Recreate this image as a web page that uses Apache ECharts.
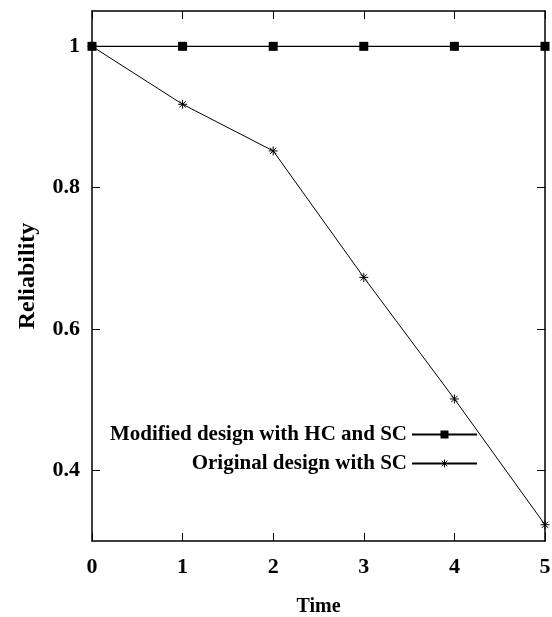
<!DOCTYPE html>
<html>
<head>
<meta charset="utf-8">
<script src="https://cdn.jsdelivr.net/npm/echarts@6/dist/echarts.min.js"></script>
<style>
html,body{margin:0;padding:0;background:#fff;}
#chart{width:552px;height:617px;}
</style>
</head>
<body>
<div id="chart"></div>
<script>
const timePoints = [0, 1, 2, 3, 4, 5];
const modifiedHCSC = [1, 1, 1, 1, 1, 1];
const originalSC = [1, 0.918, 0.852, 0.673, 0.501, 0.323];
const yTickValues = [0.4, 0.6, 0.8, 1];
const xTickValues = [0, 1, 2, 3, 4, 5];
const seriesNames = ['Modified design with HC and SC', 'Original design with SC'];

const FONT = "'Liberation Serif', 'Times New Roman', serif";
const asterisk = 'path://M5,0L5,10M0,5L10,5M1.5,1.5L8.5,8.5M1.5,8.5L8.5,1.5';

const chart = echarts.init(document.getElementById('chart'));
const tickStyle = {show: true, inside: true, length: 8, lineStyle: {color: '#000', width: 1}};
chart.setOption({
  animation: false,
  backgroundColor: '#fff',
  grid: {left: 92, right: 7, top: 11, bottom: 76, containLabel: false, outerBoundsMode: 'none'},
  legend: {
    orient: 'vertical',
    align: 'right',
    right: 74,
    top: 424,
    padding: 0,
    itemWidth: 65,
    itemHeight: 10,
    itemGap: 8,
    data: [
      {name: seriesNames[0]},
      {name: seriesNames[1], itemStyle: {color: 'none', borderColor: '#000', borderWidth: 1}}
    ],
    textStyle: {fontFamily: FONT, fontWeight: 'bold', fontSize: 21, color: '#000'}
  },
  xAxis: [{
    type: 'value', min: 0, max: 5, interval: 1,
    name: 'Time', nameLocation: 'middle', nameGap: 56,
    nameTextStyle: {fontFamily: FONT, fontWeight: 'bold', fontSize: 20, color: '#000'},
    axisLine: {show: true, onZero: false, lineStyle: {color: '#000', width: 1.5}},
    axisTick: Object.assign({customValues: xTickValues}, tickStyle),
    axisLabel: {customValues: xTickValues, margin: 15, fontFamily: FONT, fontWeight: 'bold', fontSize: 22, color: '#000'},
    splitLine: {show: false}
  }, {
    type: 'value', min: 0, max: 5, interval: 1, position: 'top',
    axisLine: {show: true, onZero: false, lineStyle: {color: '#000', width: 1.5}},
    axisTick: Object.assign({customValues: xTickValues}, tickStyle),
    axisLabel: {show: false},
    splitLine: {show: false}
  }],
  yAxis: [{
    type: 'value', min: 0.3, max: 1.05,
    name: 'Reliability', nameLocation: 'middle', nameGap: 52, nameRotate: 90,
    nameTextStyle: {fontFamily: FONT, fontWeight: 'bold', fontSize: 24, color: '#000'},
    axisLine: {show: true, onZero: false, lineStyle: {color: '#000', width: 1.5}},
    axisTick: Object.assign({customValues: yTickValues}, tickStyle),
    axisLabel: {customValues: yTickValues, margin: 12, fontFamily: FONT, fontWeight: 'bold', fontSize: 22, color: '#000'},
    splitLine: {show: false}
  }, {
    type: 'value', min: 0.3, max: 1.05, position: 'right',
    axisLine: {show: true, onZero: false, lineStyle: {color: '#000', width: 1.5}},
    axisTick: Object.assign({customValues: yTickValues}, tickStyle),
    axisLabel: {show: false},
    splitLine: {show: false}
  }],
  series: [{
    name: seriesNames[0],
    type: 'line',
    data: timePoints.map((t, i) => [t, modifiedHCSC[i]]),
    symbol: 'rect', symbolSize: 9,
    lineStyle: {color: '#000', width: 1.3},
    itemStyle: {color: '#000'},
    emphasis: {disabled: true}
  }, {
    name: seriesNames[1],
    type: 'line',
    data: timePoints.map((t, i) => [t, originalSC[i]]),
    symbol: asterisk, symbolSize: 9,
    lineStyle: {color: '#000', width: 1},
    itemStyle: {color: '#000', borderColor: '#000', borderWidth: 1},
    emphasis: {disabled: true}
  }]
});
</script>
</body>
</html>
